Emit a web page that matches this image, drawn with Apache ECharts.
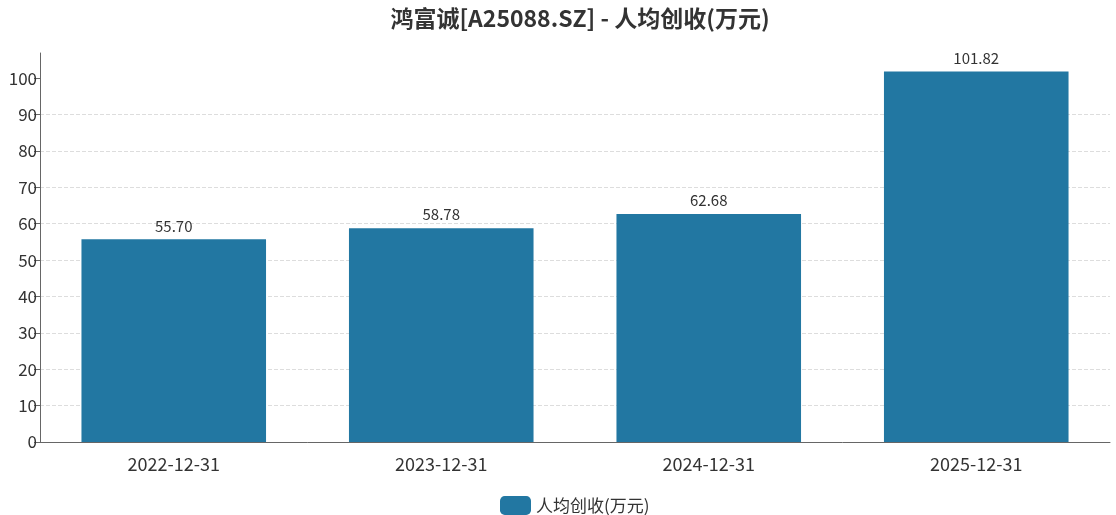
<!DOCTYPE html>
<html>
<head>
<meta charset="utf-8">
<script src="https://cdn.jsdelivr.net/npm/echarts@6/dist/echarts.min.js"></script>
<style>
html, body { margin: 0; padding: 0; background: #fff; }
#main { width: 1116px; height: 515px; }
</style>
</head>
<body>
<div id="main"></div>
<script>
var categories = ['2022-12-31', '2023-12-31', '2024-12-31', '2025-12-31'];
var values = [55.70, 58.78, 62.68, 101.82];
var yTicks = [0, 10, 20, 30, 40, 50, 60, 70, 80, 90, 100];
var seriesName = '人均创收(万元)';
var titleText = '鸿富诚[A25088.SZ] - 人均创收(万元)';

var font = '"Noto Sans CJK SC", "Noto Sans", sans-serif';
var myChart = echarts.init(document.getElementById('main'));

// title and legend sit over the middle of the plot area, not the page
var option = {
	animation: false,
	textStyle: { fontFamily: font },
	title: {
		text: titleText,
		left: 575,
		textAlign: 'center',
		top: 2,
		textStyle: { fontSize: 23, fontWeight: 'bold', color: '#333', fontFamily: font }
	},
	legend: {
		data: [seriesName],
		top: 491,
		left: 495,
		itemWidth: 31,
		itemHeight: 19,
		itemGap: 6,
		itemStyle: { borderRadius: 4 },
		textStyle: { fontSize: 17, color: '#333', fontFamily: font }
	},
	grid: {
		left: 40,
		right: 6,
		top: 53,
		bottom: 73,
		containLabel: false
	},
	xAxis: {
		type: 'category',
		data: categories,
		axisTick: { alignWithLabel: true, length: 6, lineStyle: { color: '#666' } },
		axisLine: { lineStyle: { color: '#666' } },
		axisLabel: { fontSize: 18, color: '#333', margin: 13, fontFamily: font }
	},
	yAxis: {
		type: 'value',
		min: 0,
		max: function (v) { return v.max * 1.05; },
		interval: 10,
		axisLine: { show: true, lineStyle: { color: '#666' } },
		axisTick: { show: true, length: 6, customValues: yTicks, lineStyle: { color: '#666' } },
		axisLabel: {
			fontSize: 17, color: '#333', margin: 3, fontFamily: font,
			customValues: yTicks
		},
		splitLine: { showMaxLine: false, lineStyle: { type: 'dashed', color: '#ddd' } }
	},
	series: [{
		name: seriesName,
		type: 'bar',
		barWidth: '69%',
		data: values,
		itemStyle: { color: '#2277a2' },
		label: {
			show: true,
			position: 'top',
			fontSize: 15,
			color: '#333',
			distance: 6,
			fontFamily: font,
			formatter: function (p) { return p.value.toFixed(2); }
		}
	}]
};
myChart.setOption(option);
</script>
</body>
</html>
